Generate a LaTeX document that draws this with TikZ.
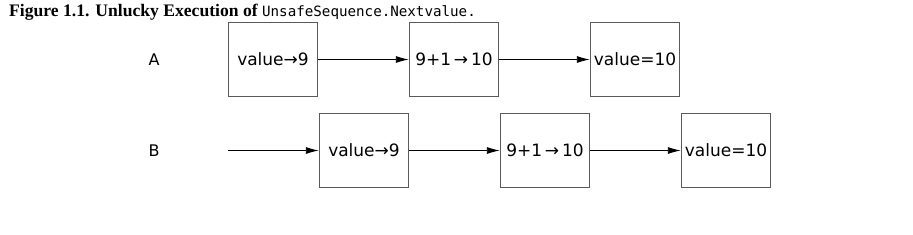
\documentclass[tikz,border=0pt]{standalone}
\usepackage{fontspec}
\setmainfont{Liberation Serif}
\setsansfont{DejaVu Sans}
\setmonofont{DejaVu Sans Mono}
\usetikzlibrary{arrows.meta,positioning}
\definecolor{boxgray}{HTML}{5A5A5A}
\tikzset{
  opbox/.style={draw=boxgray,line width=1.4pt,minimum width=89pt,minimum height=74pt,inner sep=1pt,font=\sffamily\fontsize{17}{19}\selectfont},
  thread/.style={font=\sffamily\fontsize{16}{19}\selectfont},
  flow/.style={-{Latex[length=13pt,width=7pt]},line width=.9pt},
}

\begin{document}
\begin{tikzpicture}[x=1pt,y=-1pt,node distance=90.6pt]
    \useasboundingbox (0,0) rectangle (913,234);
    \node[anchor=base west,inner sep=0pt] (title) at (9,16.5) {\fontsize{17.6}{19}\selectfont\bfseries Figure 1.1. Unlucky Execution of {\fontsize{14.2}{18}\selectfont\mdseries\ttfamily UnsafeSequence.Nextvalue.}};
    \node[thread] (ta) at (154,59.5) {A};
    \node[thread] (tb) at (154,150.5) {B};
    \node[opbox] (a1) at (273,59.5) {value→9};
    \node[opbox,right=of a1] (a2) {9+1\,→\,10};
    \node[opbox,right=of a2] (a3) {value=10};
    \node[opbox] (b1) at (364,150.5) {value→9};
    \node[opbox,right=of b1] (b2) {9+1\,→\,10};
    \node[opbox,right=of b2] (b3) {value=10};
    \coordinate (bstart) at (228,150.5);
    \draw[flow] (a1)--(a2);\draw[flow] (a2)--(a3);
    \draw[flow] (bstart)--(b1);\draw[flow] (b1)--(b2);\draw[flow] (b2)--(b3);
  \end{tikzpicture}
\end{document}
